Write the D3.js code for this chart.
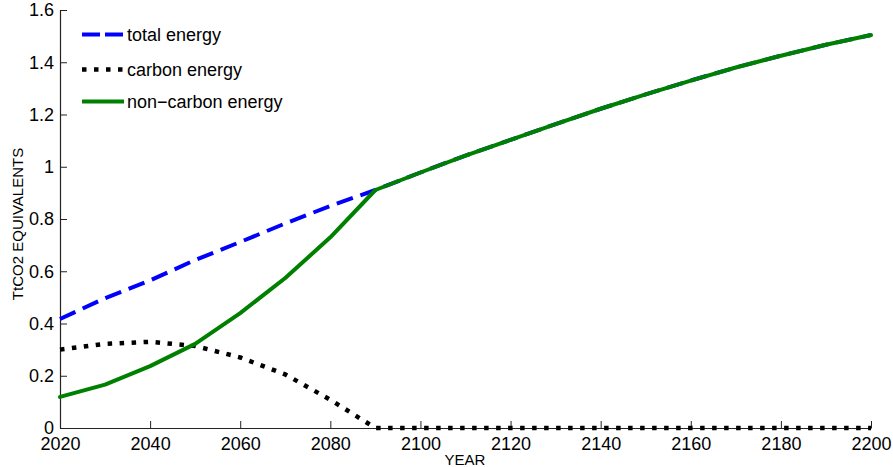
<!DOCTYPE html>
<html>
<head>
<meta charset="utf-8">
<script src="https://cdn.jsdelivr.net/npm/d3@7"></script>
<style>
  html, body { margin: 0; padding: 0; background: #fff; }
  svg { display: block; font-family: "Liberation Sans", Arial, Helvetica, sans-serif; }
</style>
</head>
<body>
<svg id="chart" width="893" height="467"></svg>
<script>
const years = [2020, 2030, 2040, 2050, 2060, 2070, 2080, 2090, 2100, 2110, 2120, 2130, 2140, 2150, 2160, 2170, 2180, 2190, 2200];
const totalEnergy = [0.417, 0.497, 0.565, 0.643, 0.712, 0.783, 0.850, 0.911, 0.978, 1.043, 1.103, 1.163, 1.222, 1.277, 1.330, 1.380, 1.425, 1.467, 1.504];
const carbonEnergy = [0.300, 0.322, 0.330, 0.314, 0.270, 0.205, 0.108, 0.0, 0, 0, 0, 0, 0, 0, 0, 0, 0, 0, 0];
const nonCarbonEnergy = [0.119, 0.166, 0.237, 0.322, 0.440, 0.574, 0.730, 0.911, 0.978, 1.043, 1.103, 1.163, 1.222, 1.277, 1.330, 1.380, 1.425, 1.467, 1.504];
const seriesNames = ["total energy", "carbon energy", "non\u2212carbon energy"];
const xTickValues = [2020, 2040, 2060, 2080, 2100, 2120, 2140, 2160, 2180, 2200];
const yTickValues = [0, 0.2, 0.4, 0.6, 0.8, 1, 1.2, 1.4, 1.6];
const yTickLabels = ["0", "0.2", "0.4", "0.6", "0.8", "1", "1.2", "1.4", "1.6"];
const xLabel = "YEAR";
const yLabel = "TtCO2 EQUIVALENTS";

const svg = d3.select("#chart");
const x = d3.scaleLinear().domain([2020, 2200]).range([60, 871]);
const y = d3.scaleLinear().domain([0, 1.6]).range([428, 10]);

const styles = [
  { color: "#0000ff", width: 4, dash: "17,8", cap: "butt" },
  { color: "#000000", width: 4.5, dash: "4.5,7.5", cap: "butt" },
  { color: "#008000", width: 4, dash: null, cap: "round" }
];
const seriesData = [totalEnergy, carbonEnergy, nonCarbonEnergy];

// axes
const xAxis = d3.axisBottom(x).tickValues(xTickValues).tickFormat(d3.format("d"))
  .tickSizeInner(-7).tickSizeOuter(0).tickPadding(9);
const yAxis = d3.axisLeft(y).tickValues(yTickValues).tickFormat((d, i) => yTickLabels[i])
  .tickSizeInner(-7).tickSizeOuter(0).tickPadding(6);

const gx = svg.append("g").attr("transform", "translate(0,428)").call(xAxis);
const gy = svg.append("g").attr("transform", "translate(60,0)").call(yAxis);
[gx, gy].forEach(g => {
  g.selectAll("text").attr("font-size", 18).attr("fill", "#000")
    .attr("font-family", "'Liberation Sans', Arial, sans-serif");
  g.select(".domain").attr("stroke", "#222").attr("stroke-width", 1.2);
  g.selectAll(".tick line").attr("stroke", "#222").attr("stroke-width", 1);
});

// lines
const line = d3.line().x((d, i) => x(years[i])).y(d => y(d));
seriesData.forEach((vals, k) => {
  const s = styles[k];
  const p = svg.append("path").datum(vals)
    .attr("d", line)
    .attr("fill", "none")
    .attr("stroke", s.color)
    .attr("stroke-width", s.width)
    .attr("stroke-linejoin", "round")
    .attr("stroke-linecap", s.cap);
  if (s.dash) p.attr("stroke-dasharray", s.dash);
});

// legend
const legend = svg.append("g");
const legendY = [34.5, 69.5, 101.5];
seriesNames.forEach((name, k) => {
  const s = styles[k];
  const l = legend.append("line")
    .attr("x1", 82).attr("x2", 124)
    .attr("y1", legendY[k]).attr("y2", legendY[k])
    .attr("stroke", s.color).attr("stroke-width", s.width)
    .attr("stroke-linecap", "butt");
  if (k === 0) l.attr("stroke-dasharray", "18,5");
  if (k === 1) l.attr("stroke-dasharray", "4.5,7.5");
  legend.append("text")
    .attr("x", 127).attr("y", legendY[k])
    .attr("dy", "0.35em")
    .attr("font-size", 18)
    .attr("fill", "#000")
    .text(name);
});

// axis labels
svg.append("text")
  .attr("x", 465).attr("y", 465)
  .attr("text-anchor", "middle")
  .attr("font-size", 15)
  .attr("fill", "#000")
  .text(xLabel);
svg.append("text")
  .attr("transform", "translate(23,224) rotate(-90)")
  .attr("text-anchor", "middle")
  .attr("font-size", 15)
  .attr("fill", "#000")
  .text(yLabel);
</script>
</body>
</html>
